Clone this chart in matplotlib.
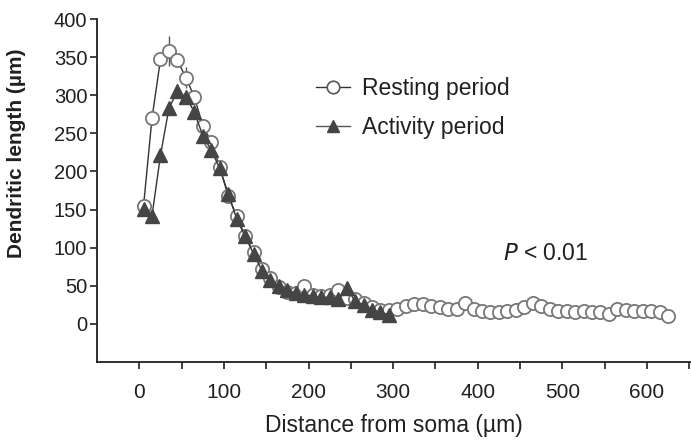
import matplotlib
matplotlib.use("Agg")
import matplotlib.pyplot as plt
from matplotlib.lines import Line2D

plt.rcParams['font.family'] = ['Liberation Sans', 'DejaVu Sans']

# Resting period (circles), distance bins in µm
rest_x = [5, 15, 25, 35, 45, 55, 65, 75, 85, 95, 105, 115, 125, 135, 145, 155, 165,
          175, 185, 195, 205, 215, 225, 235, 245, 255, 265, 275, 285, 295,
          305, 315, 325, 335, 345, 355, 365, 375, 385, 395, 405, 415, 425, 435, 445,
          455, 465, 475, 485, 495, 505, 515, 525, 535, 545, 555, 565, 575, 585, 595,
          605, 615, 625]
rest_y = [155, 270, 347, 358, 346, 323, 298, 260, 239, 206, 168, 142, 115, 94, 72, 60, 48,
          42, 40, 50, 38, 36, 38, 44, 34, 33, 28, 22, 18, 18,
          20, 24, 26, 26, 24, 22, 20, 19, 27, 20, 17, 16, 16, 17, 18,
          22, 27, 23, 19, 17, 17, 16, 17, 16, 15, 13, 19, 18, 17, 17,
          17, 16, 10]
rest_err_x = [35, 55]
rest_err_y = [358, 323]
rest_err = [20, 14]

# Activity period (triangles)
act_x = [5, 15, 25, 35, 45, 55, 65, 75, 85, 95, 105, 115, 125, 135, 145, 155, 165,
         175, 185, 195, 205, 215, 225, 235, 245, 255, 265, 275, 285, 295]
act_y = [151, 142, 221, 283, 305, 298, 278, 247, 228, 204, 171, 138, 115, 92, 70, 57, 50,
         45, 40, 38, 37, 35, 35, 33, 47, 30, 25, 18, 15, 12]

x_ticks = [0, 50, 100, 150, 200, 250, 300, 350, 400, 450, 500, 550, 600, 650]
x_labels = ['0', '', '100', '', '200', '', '300', '', '400', '', '500', '', '600', '']
y_ticks = [0, 50, 100, 150, 200, 250, 300, 350, 400]

fig = plt.figure(figsize=(6.91, 4.42), dpi=100)
ax = fig.add_axes([0.1404, 0.181, 0.8596, 0.776])

txt = '#231f20'
ax.errorbar(rest_err_x, rest_err_y, yerr=rest_err, fmt='none', ecolor='#555555',
            elinewidth=1.0, capsize=0, zorder=1)
ax.plot(rest_x, rest_y, '-', color='#333333', lw=1.0, zorder=2)
ax.plot(rest_x, rest_y, 'o', mfc='white', mec='#777777', mew=1.3, ms=9.5, zorder=3)
ax.plot(act_x, act_y, '-', color='#333333', lw=1.0, zorder=4)
ax.plot(act_x, act_y, '^', mfc='#454545', mec='#454545', ms=9.5, zorder=5)

h1 = Line2D([], [], color='#333333', lw=1.0, marker='o', mfc='white', mec='#555555',
            mew=1.2, ms=9)
h2 = Line2D([], [], color='#555555', lw=1.0, marker='^', mfc='#454545', mec='#454545', ms=9)
ax.legend([h1, h2], ['Resting period', 'Activity period'], loc='upper left',
          bbox_to_anchor=(0.3687, 0.832), frameon=False, fontsize=16.5,
          handlelength=1.5, handletextpad=0.5, labelspacing=0.72,
          borderpad=0, borderaxespad=0, labelcolor=txt)

ax.text(430, 92, r'$\it{P}$ < 0.01', fontsize=16.5, color=txt, ha='left', va='center')

ax.set_xlim(-50, 652)
ax.set_ylim(-50, 400)
ax.set_xticks(x_ticks)
ax.set_xticklabels(x_labels)
ax.set_yticks(y_ticks)
ax.spines['top'].set_visible(False)
ax.spines['right'].set_visible(False)
for s in ['left', 'bottom']:
    ax.spines[s].set_linewidth(1.3)
    ax.spines[s].set_color(txt)
ax.tick_params(axis='both', direction='out', length=5, width=1.2, color=txt,
               labelcolor=txt)
ax.tick_params(axis='x', pad=10, labelsize=15)
ax.tick_params(axis='y', pad=2, labelsize=14.5)
ax.set_xlabel('Distance from soma (µm)', fontsize=16.5, color=txt, labelpad=9)
ax.set_ylabel('Dendritic length (µm)', fontsize=15, fontweight='bold', color=txt)
ax.yaxis.set_label_coords(-0.12, 0.61)

fig.savefig('out.png', dpi=100)
